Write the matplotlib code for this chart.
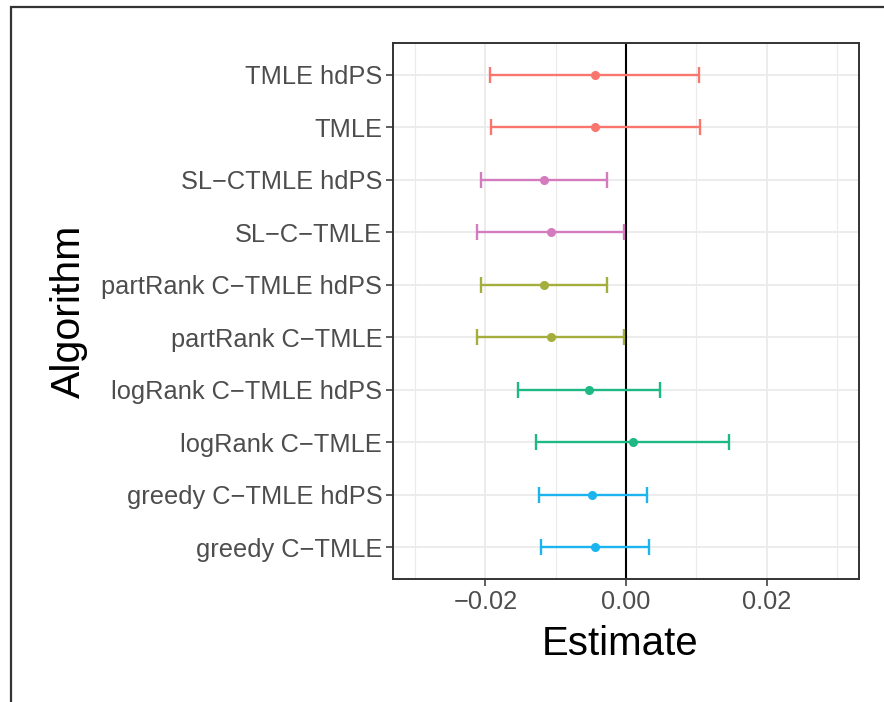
import matplotlib
matplotlib.use("Agg")
import matplotlib.pyplot as plt
from matplotlib.patches import Rectangle
from matplotlib.ticker import MultipleLocator

plt.rcParams['font.family'] = ['Liberation Sans', 'DejaVu Sans']

algorithms = ["greedy C\u2212TMLE", "greedy C\u2212TMLE hdPS", "logRank C\u2212TMLE",
              "logRank C\u2212TMLE hdPS", "partRank C\u2212TMLE", "partRank C\u2212TMLE hdPS",
              "SL\u2212C\u2212TMLE", "SL\u2212CTMLE hdPS", "TMLE", "TMLE hdPS"]
estimate = [-0.00436, -0.00479, 0.00095, -0.00526, -0.01071, -0.0117, -0.01071, -0.0117, -0.00436, -0.00445]
lower = [-0.01204, -0.01241, -0.01279, -0.01535, -0.02114, -0.02061, -0.02114, -0.02061, -0.01915, -0.01929]
upper = [0.00327, 0.00294, 0.01469, 0.00483, -0.0003, -0.00275, -0.00033, -0.00275, 0.01047, 0.01033]
colors = ["#1CB4EE", "#1CB4EE", "#1DB884", "#1DB884", "#A4AE3C", "#A4AE3C",
          "#D47BBE", "#D47BBE", "#F8766D", "#F8766D"]
xticks = [-0.02, 0.00, 0.02]
xticklabels = ["\u22120.02", "0.00", "0.02"]

W, H = 884, 702
fig = plt.figure(figsize=(W / 100, H / 100), dpi=100)
ax = fig.add_axes([393.3 / W, 1 - 579 / H, (859 - 393.3) / W, (579 - 43.3) / H])

# outer frame
fig.patches.append(Rectangle((11 / W, -0.05), 1.2, (1 - 7 / H) + 0.05, transform=fig.transFigure,
                             fill=False, edgecolor="#333333", linewidth=1.6, zorder=0))

ax.set_xlim(-0.0331, 0.0331)
ax.set_ylim(0.4, 10.6)
ax.xaxis.set_minor_locator(MultipleLocator(0.01))
ax.set_xticks(xticks)
ax.set_xticklabels(xticklabels)
ax.set_yticks(range(1, len(algorithms) + 1))
ax.set_yticklabels(algorithms)

ax.grid(True, which="major", color="#EBEBEB", linewidth=1.3, zorder=0)
ax.grid(True, which="minor", axis="x", color="#EBEBEB", linewidth=0.8, zorder=0)
ax.set_axisbelow(True)

ax.axvline(0, color="black", linewidth=1.5, zorder=2)

for i, (e, lo, hi, c) in enumerate(zip(estimate, lower, upper, colors)):
    y = i + 1
    ax.errorbar([e], [y], xerr=[[e - lo], [hi - e]], fmt="o", color=c, ecolor=c,
                elinewidth=1.7, capsize=5.5, capthick=1.7, markersize=5.5, zorder=3)

for s in ax.spines.values():
    s.set_color("#333333")
    s.set_linewidth(1.4)

ax.tick_params(axis="both", which="major", length=5, width=1.1, color="#333333",
               labelsize=18.3, labelcolor="#4D4D4D", pad=3)
ax.tick_params(axis="both", which="minor", length=0)

ax.set_xlabel("Estimate", fontsize=29, color="black", labelpad=8)
ax.set_ylabel("Algorithm", fontsize=29.5, color="black", labelpad=10)
ax.xaxis.set_label_coords(0.486, -0.085)

fig.savefig("out.png", dpi=100, facecolor="white")
